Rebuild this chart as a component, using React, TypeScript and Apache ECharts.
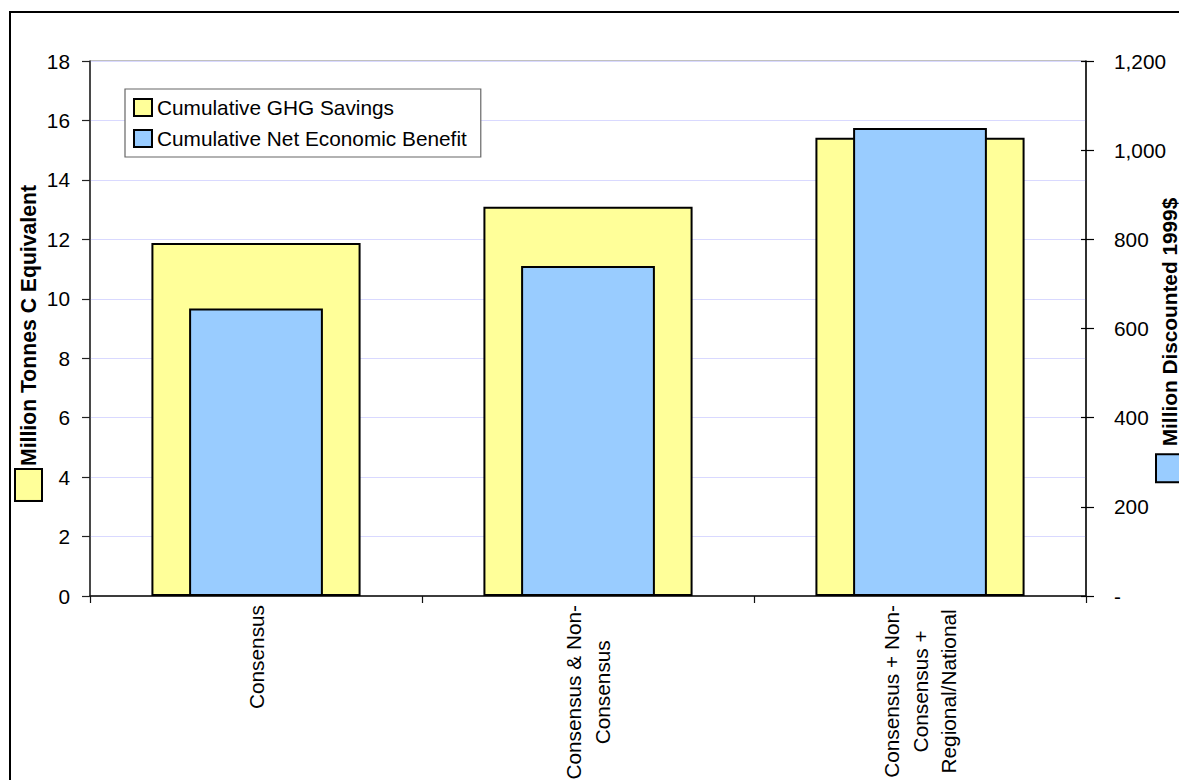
import React, { useEffect, useRef } from "react";
import * as echarts from "echarts";

// ---- data ----
const categories = [
  "Consensus",
  "Consensus & Non-\nConsensus",
  "Consensus + Non-\nConsensus +\nRegional/National",
];
const seriesNames = ["Cumulative GHG Savings", "Cumulative Net Economic Benefit"];
const ghgSavings = [11.88, 13.1, 15.42]; // Million Tonnes C Equivalent (left axis)
const netBenefit = [645, 740, 1050]; // Million Discounted 1999$ (right axis)
const axisTitles = ["Million Tonnes C Equivalent", "Million Discounted 1999$"];
const leftAxisMin = 0;
const leftAxisMax = 18;
const leftAxisInterval = 2;
const rightAxisMin = 0;
const rightAxisMax = 1200;
const rightAxisInterval = 200;

const FONT = "'Liberation Sans', Arial, sans-serif";
const FS = 20.8;
const YELLOW = "#ffff99";
const BLUE = "#99ccff";
const GRID = "#d9d9ff";

export default function App() {
  const ref = useRef<HTMLDivElement>(null);

  useEffect(() => {
    if (!ref.current) return;
    const chart = echarts.init(ref.current, null, { renderer: "svg" });

    const splitColors = [] as string[];
    for (let v = leftAxisMin; v <= leftAxisMax; v += leftAxisInterval) {
      splitColors.push(v === leftAxisMax ? "#808080" : GRID);
    }

    const richLabel = {
      c: { align: "center", fontSize: FS, lineHeight: 28.5, fontFamily: FONT, color: "#000" },
    };

    const option: any = {
      animation: false,
      backgroundColor: "#fff",
      textStyle: { fontFamily: FONT },
      graphic: [
        {
          type: "rect",
          silent: true,
          z: -10,
          shape: { x: 10, y: 12, width: 1400, height: 1000 },
          style: { fill: "none", stroke: "#000", lineWidth: 2 },
        },
      ],
      legend: {
        left: 125,
        top: 89,
        orient: "vertical",
        itemWidth: 18,
        itemHeight: 17,
        itemGap: 10,
        padding: [8, 14, 8, 8],
        borderColor: "#666",
        borderWidth: 1.2,
        backgroundColor: "#fff",
        icon: "rect",
        textStyle: { fontSize: FS, color: "#000", fontFamily: FONT, lineHeight: 21 },
        data: seriesNames,
      },
      grid: {
        left: 90,
        top: 61,
        width: 996,
        height: 535,
        show: true,
        borderColor: "#808080",
        borderWidth: 1,
        backgroundColor: "transparent",
        containLabel: false,
        outerBoundsMode: "none",
      },
      xAxis: [
        {
          type: "category",
          data: categories,
          position: "bottom",
          axisLine: { show: true, lineStyle: { color: "#111", width: 1.5 } },
          axisTick: { show: true, alignWithLabel: false, length: 7, lineStyle: { color: "#111", width: 1.2 } },
          axisLabel: {
            rotate: 90,
            margin: 9,
            interval: 0,
            color: "#000",
            fontSize: FS,
            fontFamily: FONT,
            formatter: (v: string) =>
              v
                .split("\n")
                .map((l) => `{c|${l}}`)
                .join("\n"),
            rich: richLabel,
          },
          splitLine: { show: false },
        },
        {
          type: "category",
          data: categories,
          show: false,
        },
      ],
      yAxis: [
        {
          type: "value",
          position: "left",
          min: leftAxisMin,
          max: leftAxisMax,
          interval: leftAxisInterval,
          name: `{box|}{gap|}{t|${axisTitles[0]}}{pad|}`,
          nameLocation: "middle",
          nameRotate: 90,
          nameGap: 49,
          nameMoveOverlap: false,
          nameTextStyle: {
            rich: {
              box: {
                width: 30,
                height: 25,
                backgroundColor: YELLOW,
                borderColor: "#000",
                borderWidth: 2,
              },
              gap: { width: 4, height: 25 },
              t: { fontSize: 21.2, fontWeight: "bold", fontFamily: FONT, color: "#000", lineHeight: 25 },
              pad: { width: 28, height: 25 },
            },
          },
          axisLine: { show: true, lineStyle: { color: "#222", width: 1.5 } },
          axisTick: { show: true, length: 8, lineStyle: { color: "#222", width: 1.2 } },
          axisLabel: { margin: 20, color: "#000", fontSize: FS, fontFamily: FONT },
          splitLine: { show: true, showMinLine: false, lineStyle: { color: splitColors, width: 1.2 } },
        },
        {
          type: "value",
          position: "right",
          min: rightAxisMin,
          max: rightAxisMax,
          interval: rightAxisInterval,
          name: `{box|}{gap|}{t|${axisTitles[1]}}{pad|}`,
          nameLocation: "middle",
          nameRotate: 90,
          nameGap: 71,
          nameMoveOverlap: false,
          nameTextStyle: {
            rich: {
              box: {
                width: 26,
                height: 25,
                backgroundColor: BLUE,
                borderColor: "#000",
                borderWidth: 2,
              },
              gap: { width: 9, height: 25 },
              t: { fontSize: FS, fontWeight: "bold", fontFamily: FONT, color: "#000", lineHeight: 25 },
              pad: { width: 22, height: 25 },
            },
          },
          axisLine: { show: true, lineStyle: { color: "#000", width: 1.5 } },
          axisTick: { show: true, length: 8, lineStyle: { color: "#000", width: 1.2 } },
          axisLabel: {
            margin: 28,
            color: "#000",
            fontSize: FS,
            fontFamily: FONT,
            formatter: (v: number) => (v === 0 ? "-" : v.toLocaleString("en-US")),
          },
          splitLine: { show: false },
        },
        {
          type: "value",
          position: "right",
          min: rightAxisMin,
          max: rightAxisMax,
          interval: rightAxisInterval,
          axisLine: { show: false },
          axisTick: { show: true, inside: true, length: 5, lineStyle: { color: "#000", width: 1.2 } },
          axisLabel: { show: false },
          splitLine: { show: false },
        },
      ],
      series: [
        {
          name: seriesNames[0],
          type: "bar",
          xAxisIndex: 0,
          yAxisIndex: 0,
          data: ghgSavings,
          barWidth: "63%",
          itemStyle: { color: YELLOW, borderColor: "#000", borderWidth: 2 },
        },
        {
          name: seriesNames[1],
          type: "bar",
          xAxisIndex: 1,
          yAxisIndex: 1,
          data: netBenefit,
          barWidth: "40.3%",
          itemStyle: { color: BLUE, borderColor: "#000", borderWidth: 2 },
        },
      ],
    };

    chart.setOption(option);
    return () => {
      chart.dispose();
    };
  }, []);

  return (
    <div
      ref={ref}
      style={{ position: "fixed", left: 0, top: 0, width: 1179, height: 780, overflow: "hidden", background: "#fff" }}
    />
  );
}
